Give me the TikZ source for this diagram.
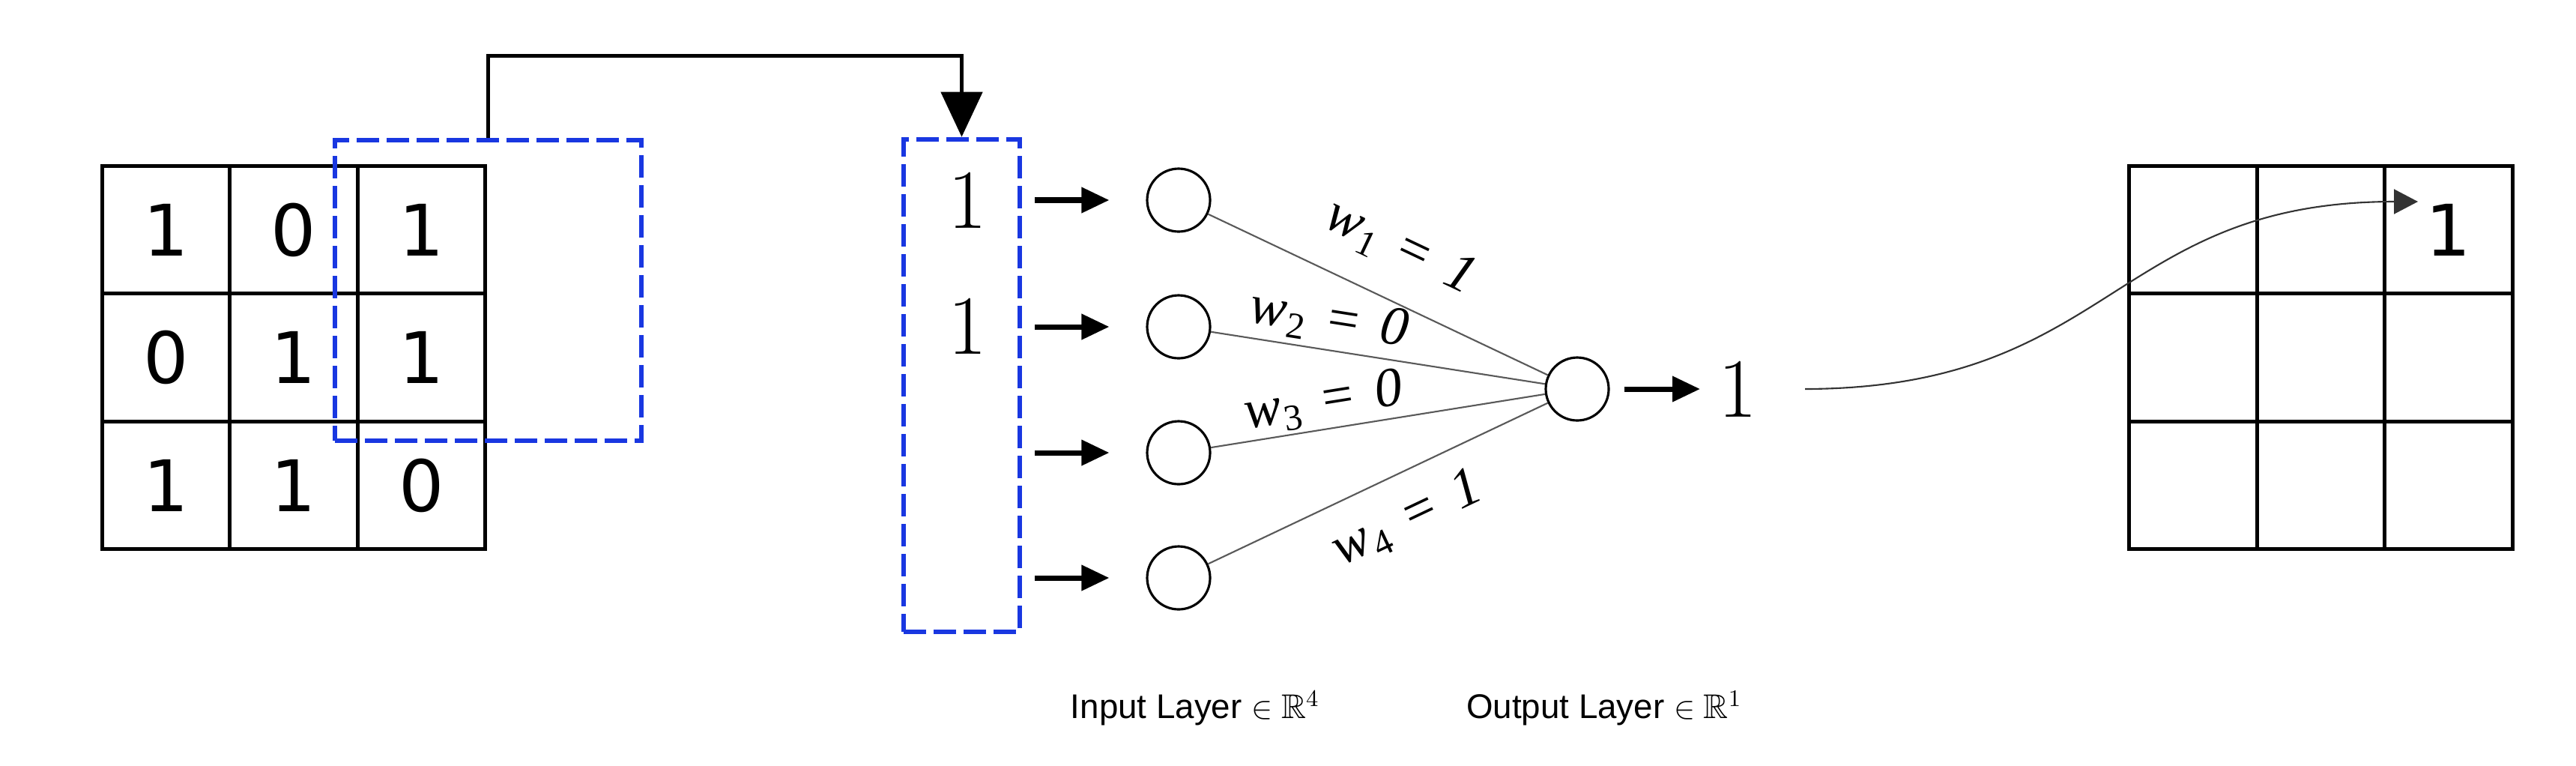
\documentclass[tikz,border=0pt]{standalone}
\usepackage{amsmath,amssymb}
\usepackage{fontspec}
\newfontfamily\gridfont{DejaVu Sans}
\newfontfamily\labelfont{Liberation Sans}
\newfontfamily\wfont{Liberation Serif}
\usepackage{tikz}
\usetikzlibrary{arrows.meta, positioning}

\definecolor{winblue}{RGB}{25,55,225}

% weight label: w_i = v
\newcommand{\wlabel}[2]{{\wfont\itshape w\kern0.03em\raisebox{-0.35ex}{\upshape\fontsize{14}{14}\selectfont #1}\hspace{0.4em}\upshape=\hspace{0.4em}\itshape #2}}

\begin{document}
\begin{tikzpicture}[
    cell/.style={rectangle, draw=black, line width=1.4pt, minimum size=1.705cm,
                 outer sep=0pt, inner sep=0pt,
                 font=\gridfont\fontsize{27}{27}\selectfont},
    window/.style={rectangle, draw=winblue, line width=1.9pt,
                   dash pattern=on 0.3cm off 0.1cm, inner sep=0pt},
    neuron/.style={circle, draw=black, line width=0.9pt,
                   minimum size=0.84cm, inner sep=0pt},
    val/.style={font=\fontsize{32}{32}\selectfont, inner sep=1pt},
    weight/.style={sloped, font=\fontsize{21}{24}\selectfont, inner sep=1pt},
    conn/.style={draw=black!65, line width=0.6pt},
    inarrow/.style={-{Triangle[length=0.37cm, width=0.33cm]}, line width=2pt},
    bigarrow/.style={-{Triangle[length=0.6cm, width=0.55cm]}, line width=1.4pt},
    curvearrow/.style={-{Triangle[length=0.32cm, width=0.33cm]},
                       line width=0.6pt, draw=black!80},
    layerlabel/.style={font=\labelfont\fontsize{13}{15}\selectfont}
]

\useasboundingbox (0,0) rectangle (34.38,-10.21);

%% === INPUT IMAGE (3x3) ===
\node[cell] (l11) at (2.215,-3.065) {1};
\node[cell, right=0pt of l11] (l12) {0};
\node[cell, right=0pt of l12] (l13) {1};
\node[cell, below=0pt of l11] (l21) {0};
\node[cell, right=0pt of l21] (l22) {1};
\node[cell, right=0pt of l22] (l23) {1};
\node[cell, below=0pt of l21] (l31) {1};
\node[cell, right=0pt of l31] (l32) {1};
\node[cell, right=0pt of l32] (l33) {0};

%% --- sliding window ---
\node[window, minimum width=4.09cm, minimum height=4.01cm] (win) at (6.515,-3.875) {};

%% === FLATTENED VECTOR ===
\node[window, minimum width=1.55cm, minimum height=6.57cm] (vec) at (12.835,-5.145) {};
\node[val] (v1) at (12.91,-2.67) {1};
\node[val] (v2) at (12.91,-4.35) {1};

\draw[bigarrow] (win.north) -- ++(0,1.09) -| (vec.north);

%% === NETWORK ===
\node[neuron] (i1) at (15.73,-2.67) {};
\node[neuron] (i2) at (15.73,-4.36) {};
\node[neuron] (i3) at (15.73,-6.04) {};
\node[neuron] (i4) at (15.73,-7.71) {};
\node[neuron] (o)  at (21.05,-5.19) {};
\node[val] (outval) at (23.19,-5.19) {1};

%% --- arrows into input layer ---
\draw[inarrow] ([xshift=0.17cm]vec.east |- i1) -- ([xshift=-0.49cm]i1.west);
\draw[inarrow] ([xshift=0.17cm]vec.east |- i2) -- ([xshift=-0.49cm]i2.west);
\draw[inarrow] ([xshift=0.17cm]vec.east |- i3) -- ([xshift=-0.49cm]i3.west);
\draw[inarrow] ([xshift=0.17cm]vec.east |- i4) -- ([xshift=-0.49cm]i4.west);

%% --- weights ---
\draw[conn] (i1) -- node[weight, above=0.34cm, pos=0.5] {\wlabel{1}{1}} (o);
\draw[conn] (i2) -- node[weight, above=0.04cm, pos=0.34] {\wlabel{2}{0}} (o);
\draw[conn] (i3) -- node[weight, above=0.0cm, pos=0.35] {\wlabel{3}{0}} (o);
\draw[conn] (i4) -- node[weight, below=0.26cm, pos=0.53] {\wlabel{4}{1}} (o);

\draw[inarrow] ([xshift=0.19cm]o.east) -- ([xshift=-0.5cm]outval.center);

%% === OUTPUT FEATURE MAP (3x3) ===
\node[cell] (r11) at (29.27,-3.065) {};
\node[cell, right=0pt of r11] (r12) {};
\node[cell, right=0pt of r12] (r13) {1};
\node[cell, below=0pt of r11] (r21) {};
\node[cell, right=0pt of r21] (r22) {};
\node[cell, right=0pt of r22] (r23) {};
\node[cell, below=0pt of r21] (r31) {};
\node[cell, right=0pt of r31] (r32) {};
\node[cell, right=0pt of r32] (r33) {};

\draw[curvearrow] ([xshift=0.9cm]outval.center)
    .. controls (28.2,-5.18) and (28.2,-2.69) .. ([shift={(-0.41,0.375)}]r13.center);

%% --- LAYER LABELS ---
\node[layerlabel] (inlabel)  at (15.95,-9.45) {Input Layer $\in \mathbb{R}^4$};
\node[layerlabel] (outlabel) at (21.41,-9.45) {Output Layer $\in \mathbb{R}^1$};

\end{tikzpicture}
\end{document}
